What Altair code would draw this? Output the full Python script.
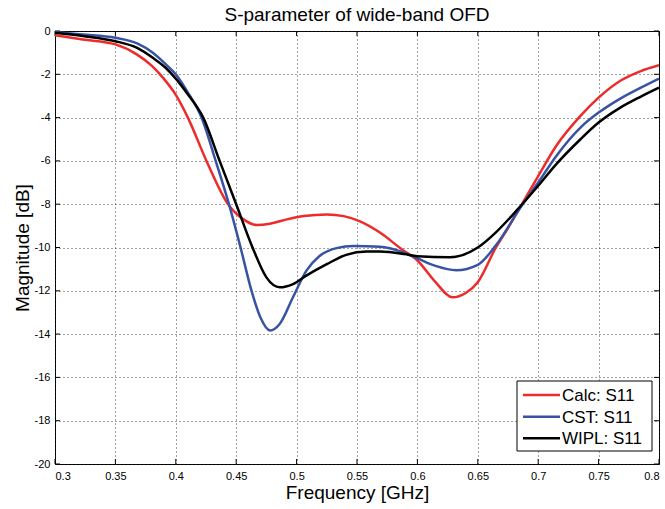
import altair as alt
import pandas as pd

# ---- data ----
calc_f = [0.300, 0.323, 0.350, 0.368, 0.380, 0.390, 0.400, 0.410, 0.4254, 0.4433,
          0.456, 0.467, 0.478, 0.492, 0.506, 0.525, 0.539, 0.552,
          0.569, 0.587, 0.600, 0.615, 0.629, 0.640, 0.650, 0.665, 0.675, 0.6875,
          0.700, 0.715, 0.735, 0.750, 0.768, 0.785, 0.800]
calc_db = [-0.20, -0.39, -0.62, -1.09, -1.60, -2.20, -2.95, -4.00, -6.00, -8.00,
           -8.70, -8.96, -8.90, -8.70, -8.55, -8.47, -8.55, -8.78,
           -9.31, -10.08, -10.60, -11.60, -12.30, -12.10, -11.60, -10.00, -9.10, -7.90,
           -6.70, -5.30, -3.92, -3.08, -2.30, -1.85, -1.58]

cst_f = [0.300, 0.323, 0.350, 0.368, 0.381, 0.392, 0.400, 0.409, 0.4213, 0.433,
         0.444, 0.4536, 0.4627, 0.470, 0.478, 0.486, 0.497, 0.508, 0.519,
         0.533, 0.547, 0.569, 0.587, 0.600, 0.615, 0.632, 0.650, 0.665, 0.686,
         0.700, 0.715, 0.735, 0.750, 0.768, 0.785, 0.800]
cst_db = [-0.05, -0.16, -0.31, -0.57, -1.00, -1.55, -2.00, -2.75, -4.00, -6.00,
          -8.00, -10.00, -12.00, -13.22, -13.83, -13.53, -12.30, -11.08, -10.39,
          -10.03, -9.93, -9.97, -10.20, -10.50, -10.85, -11.05, -10.80, -9.90, -8.10,
          -7.00, -5.77, -4.46, -3.77, -3.12, -2.62, -2.20]

wipl_f = [0.300, 0.323, 0.350, 0.368, 0.381, 0.392, 0.400, 0.409, 0.4227, 0.4363,
          0.450, 0.4635, 0.475, 0.486, 0.497, 0.508, 0.525, 0.541, 0.558,
          0.569, 0.589, 0.600, 0.627, 0.650, 0.665, 0.682, 0.700, 0.715, 0.735,
          0.750, 0.768, 0.785, 0.800]
wipl_db = [-0.08, -0.23, -0.47, -0.78, -1.24, -1.72, -2.20, -2.85, -4.00, -6.00,
           -8.00, -10.00, -11.38, -11.84, -11.69, -11.30, -10.77, -10.34, -10.19,
           -10.19, -10.30, -10.40, -10.45, -10.00, -9.30, -8.30, -7.15, -6.15, -5.00,
           -4.23, -3.54, -3.03, -2.62]

series_names = ["Calc: S11", "CST: S11", "WIPL: S11"]
series_colors = ["#ee2b2b", "#3953a4", "#000000"]
x_ticks = [0.3, 0.35, 0.4, 0.45, 0.5, 0.55, 0.6, 0.65, 0.7, 0.75, 0.8]
y_ticks = [0, -2, -4, -6, -8, -10, -12, -14, -16, -18, -20]
title_text = "S-parameter of wide-band OFD"

# ---- build tables ----
rows = []
for name, fs, ds in zip(series_names, [calc_f, cst_f, wipl_f], [calc_db, cst_db, wipl_db]):
    for i, (f, d) in enumerate(zip(fs, ds)):
        rows.append({"series": name, "f": f, "db": d, "i": i})
df = pd.DataFrame(rows)
xt = pd.DataFrame({"f": x_ticks})
yt = pd.DataFrame({"db": y_ticks})

W, H = 604, 433
FONT = "Liberation Sans"

xs = alt.Scale(domain=[0.3, 0.8], nice=False, zero=False)
ys = alt.Scale(domain=[-20, 0], nice=False, zero=False)
cs = alt.Scale(domain=series_names, range=series_colors)

x_axis = alt.Axis(values=x_ticks, labelExpr="'' + datum.value", title="Frequency [GHz]",
                  labelPadding=6, titleY=34, titleBaseline="alphabetic")
y_axis = alt.Axis(values=y_ticks, labelExpr="'' + datum.value", title="Magnitude [dB]",
                  labelPadding=5, titleX=-33, titleY=H / 2, titleAngle=270,
                  titleBaseline="middle", titleAlign="center")

base = alt.Chart(df).mark_line(strokeWidth=2.5, interpolate="monotone", clip=True).encode(
    x=alt.X("f:Q", scale=xs, axis=x_axis),
    y=alt.Y("db:Q", scale=ys, axis=y_axis),
    color=alt.Color("series:N", scale=cs, legend=None),
    order="i:Q",
)
lines = [base.transform_filter(alt.datum.series == n) for n in series_names]

# inward tick marks on all four sides (MATLAB style)
tick_style = dict(color="black", strokeWidth=1)
xb = alt.Chart(xt).mark_rule(**tick_style).encode(
    x=alt.X("f:Q", scale=xs, axis=x_axis), y=alt.value(H), y2=alt.value(H - 5))
xtop = alt.Chart(xt).mark_rule(**tick_style).encode(
    x=alt.X("f:Q", scale=xs, axis=x_axis), y=alt.value(0), y2=alt.value(5))
yl = alt.Chart(yt).mark_rule(**tick_style).encode(
    y=alt.Y("db:Q", scale=ys, axis=y_axis), x=alt.value(0), x2=alt.value(5))
yr = alt.Chart(yt).mark_rule(**tick_style).encode(
    y=alt.Y("db:Q", scale=ys, axis=y_axis), x=alt.value(W), x2=alt.value(W - 5))

# title as text mark
title = alt.Chart(pd.DataFrame({"t": [title_text]})).mark_text(
    fontSize=19, font=FONT, baseline="alphabetic", align="center", color="black"
).encode(text="t:N", x=alt.value(W / 2), y=alt.value(-10))

# legend box drawn by hand
LX0, LX1, LY0, LY1 = 462, 597, 350, 420
row_y = [364, 385.7, 407.3]
legend_layers = [
    alt.Chart(pd.DataFrame({"a": [0]})).mark_rect(
        fill="white", stroke="black", strokeWidth=1
    ).encode(x=alt.value(LX0), x2=alt.value(LX1), y=alt.value(LY0), y2=alt.value(LY1))
]
for name, ry in zip(series_names, row_y):
    ldf = pd.DataFrame({"series": [name]})
    legend_layers.append(
        alt.Chart(ldf).mark_rule(strokeWidth=2.5).encode(
            x=alt.value(LX0 + 6), x2=alt.value(LX0 + 43), y=alt.value(ry),
            color=alt.Color("series:N", scale=cs, legend=None))
    )
    legend_layers.append(
        alt.Chart(ldf).mark_text(align="left", baseline="middle", fontSize=17,
                                 font=FONT, color="black").encode(
            x=alt.value(LX0 + 45), y=alt.value(ry + 1), text="series:N")
    )

chart = alt.layer(xb, xtop, yl, yr, *lines, *legend_layers, title).properties(
    width=W, height=H,
    autosize=alt.AutoSizeParams(type="none"),
    padding={"left": 55, "top": 31, "right": 6, "bottom": 45},
    background="white",
).configure_view(
    stroke="black", strokeWidth=1
).configure_axis(
    domain=False, ticks=False, grid=True, gridColor="#222222", gridDash=[1, 3],
    gridOpacity=0.85, gridWidth=1,
    labelFont=FONT, labelFontSize=11, labelColor="black",
    titleFont=FONT, titleFontSize=19, titleFontWeight="normal", titleColor="black",
)

chart.save("out.html", embed_options={"renderer": "svg", "actions": False})
